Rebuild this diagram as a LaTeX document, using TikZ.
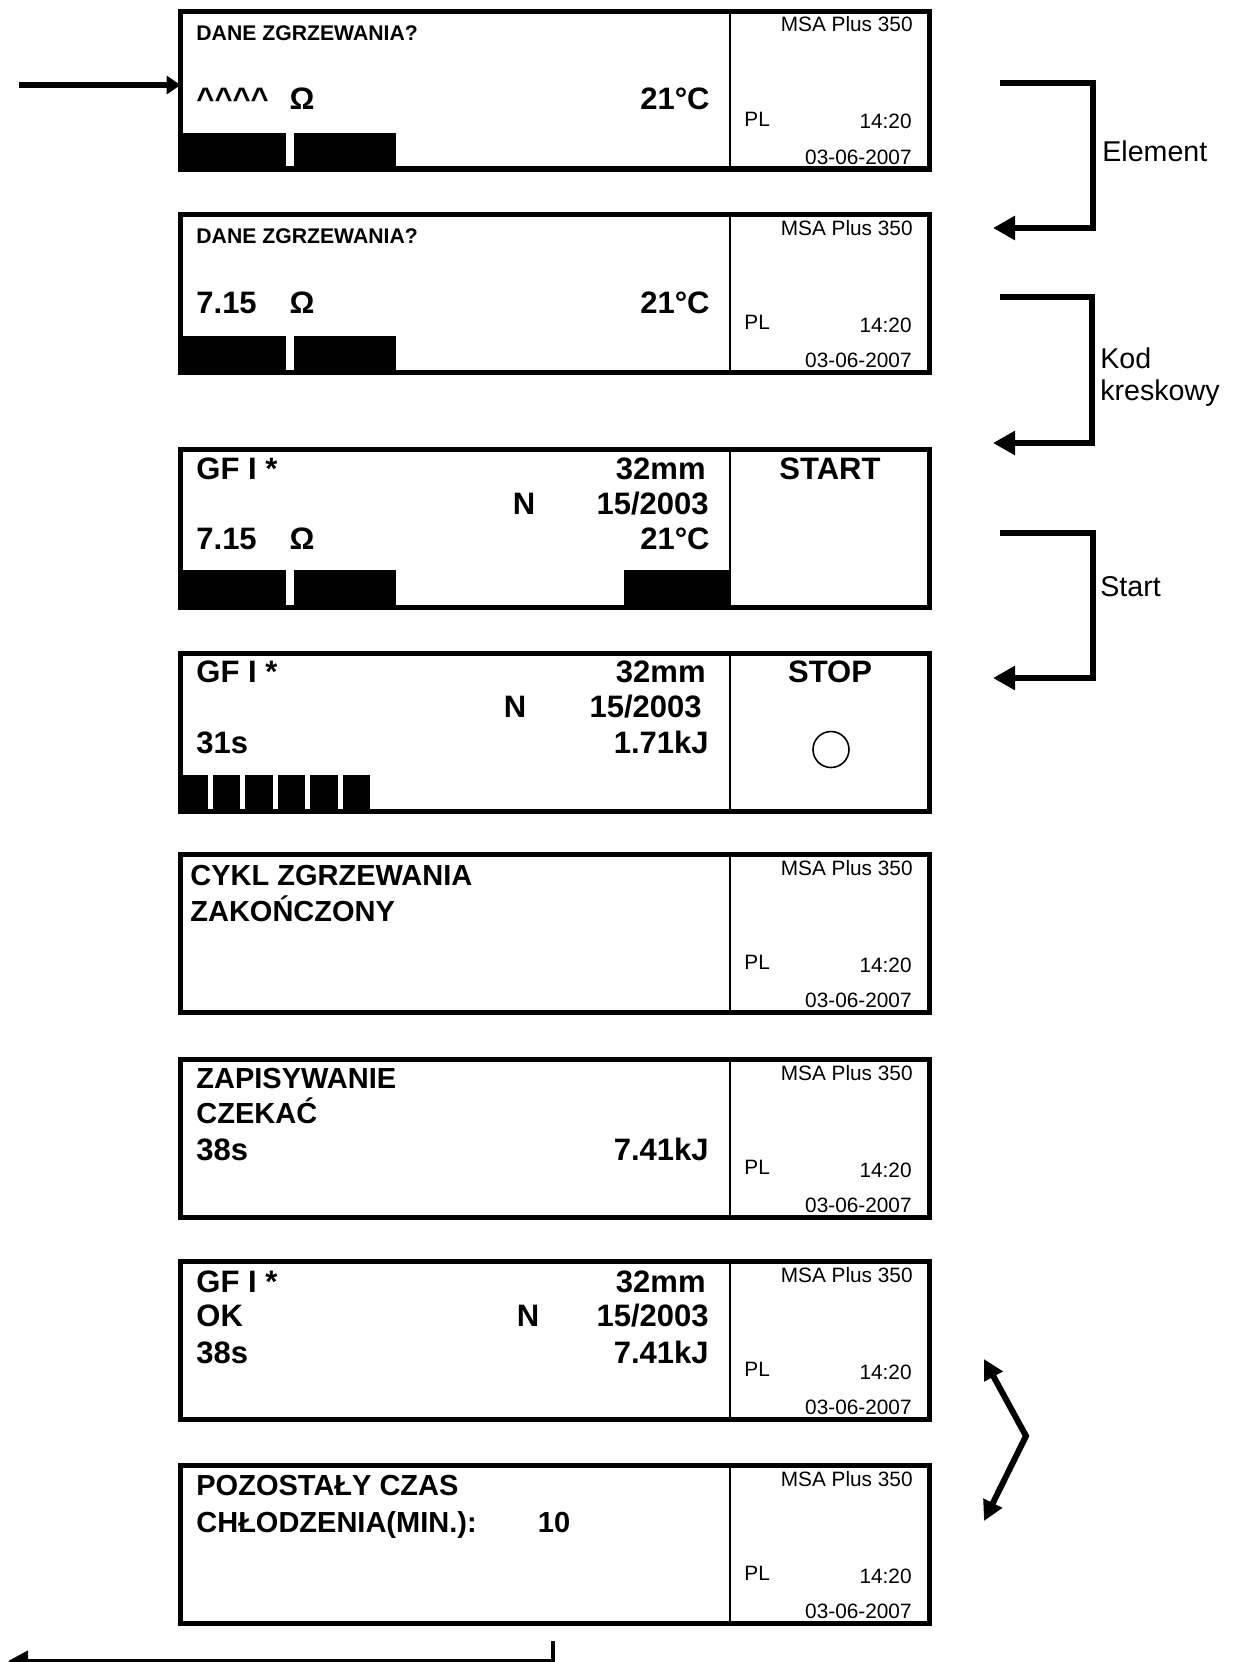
\documentclass[tikz,border=0pt]{standalone}
\usepackage{fontspec}
\setmainfont{Liberation Sans}
\usepackage{tikz}
\usetikzlibrary{
	arrows.meta,
	positioning,
	calc
}

\begin{document}
\begin{tikzpicture}[
		x=0.5pt,
		y=-0.5pt,
		screen/.style={
			draw,
			line width=2.6pt,
			minimum width=374.4pt,
			minimum height=78.9pt,
			inner sep=0pt,
			outer sep=0pt,
			anchor=north west
		},
		divider/.style={line width=1pt},
		bar/.style={fill=black},
		tinytxt/.style={font=\fontsize{10.4pt}{12pt}\selectfont, inner sep=0pt},
		headtxt/.style={font=\bfseries\fontsize{10.6pt}{12pt}\selectfont, inner sep=0pt, anchor=base west},
		bigtxt/.style={font=\bfseries\fontsize{15.5pt}{18pt}\selectfont, inner sep=0pt},
		msgtxt/.style={font=\bfseries\fontsize{14.5pt}{17pt}\selectfont, inner sep=0pt, anchor=base west},
		keytxt/.style={font=\fontsize{14.3pt}{17pt}\selectfont, inner sep=0pt, anchor=base west},
		flow/.style={line width=2.8pt, -{Triangle[length=11pt,width=11.5pt]}}
		]
		
		\useasboundingbox (0,0) rectangle (1239,1662);
		\clip (0,0) rectangle (1239,1662);
		
		% Screens
		\foreach \t [count=\i] in {8.5,212,447,651,852,1057,1259,1463}
		\node[screen] (scr\i) at (180.6,\t+2.6) {};
		\foreach \i in {1,...,8}
		\draw[divider] ($(scr\i.north west)+(549.4,0)$) -- ($(scr\i.south west)+(549.4,0)$);
		
		% Status panel
		\foreach \i/\t in {1/8.5,2/212,5/852,6/1057,7/1259,8/1463} {
			\node[tinytxt, anchor=base east] (msa\i) at (913,\t+23) {MSA Plus 350};
			\node[tinytxt, anchor=base west] (pl\i) at (744,\t+117.5) {PL};
			\node[tinytxt, anchor=base east] (time\i) at (912,\t+120) {14:20};
			\node[tinytxt, anchor=base east] (date\i) at (912,\t+155.5) {03-06-2007};
		}
		
		% Screen 1
		\node[headtxt] (ask1) at (196,40) {DANE ZGRZEWANIA?};
		\node[bigtxt, anchor=base west] (res1) at (196,109.5) {\textasciicircum\textasciicircum\textasciicircum\textasciicircum};
		\node[bigtxt, anchor=base] (ohm1) at (302,109.5) {Ω};
		\node[bigtxt, anchor=base east] (temp1) at (710,109.5) {21°C};
		\fill[bar] (180,132.5) rectangle (286,169);
		\fill[bar] (294,132.5) rectangle (396,169);
		
		% Screen 2
		\node[headtxt] (ask2) at (196,243.5) {DANE ZGRZEWANIA?};
		\node[bigtxt, anchor=base west] (res2) at (196,313) {7.15};
		\node[bigtxt, anchor=base] (ohm2) at (302,313) {Ω};
		\node[bigtxt, anchor=base east] (temp2) at (710,313) {21°C};
		\fill[bar] (180,336) rectangle (286,372);
		\fill[bar] (294,336) rectangle (396,372);
		
		% Screen 3
		\node[bigtxt, anchor=base west] (gf3) at (196,479.5) {GF I *};
		\node[bigtxt, anchor=base east] (dia3) at (706,479.5) {32mm};
		\node[bigtxt, anchor=base] (n3) at (524,514) {N};
		\node[bigtxt, anchor=base east] (norm3) at (709,514) {15/2003};
		\node[bigtxt, anchor=base west] (res3) at (196,549) {7.15};
		\node[bigtxt, anchor=base] (ohm3) at (302,549) {Ω};
		\node[bigtxt, anchor=base east] (temp3) at (710,549) {21°C};
		\node[bigtxt, anchor=base] (start) at (830,479.5) {START};
		\fill[bar] (180,570) rectangle (286,610);
		\fill[bar] (294,570) rectangle (396,610);
		\fill[bar] (624,570) rectangle (730,610);
		
		% Screen 4
		\node[bigtxt, anchor=base west] (gf4) at (196,682) {GF I *};
		\node[bigtxt, anchor=base east] (dia4) at (706,682) {32mm};
		\node[bigtxt, anchor=base] (n4) at (515,717) {N};
		\node[bigtxt, anchor=base east] (norm4) at (702,717) {15/2003};
		\node[bigtxt, anchor=base west] (time4) at (196,753) {31s};
		\node[bigtxt, anchor=base east] (energy4) at (709,753) {1.71kJ};
		\node[bigtxt, anchor=base] (stop) at (830,682) {STOP};
		\node[draw, circle, line width=0.8pt, minimum size=18pt, inner sep=0pt] (lamp) at (831,749.5) {};
		\foreach \k in {0,...,5}
		\fill[bar] (180+\k*32.5,775) rectangle (207.5+\k*32.5,812);
		
		% Screen 5
		\node[msgtxt] (done1) at (190,885) {CYKL ZGRZEWANIA};
		\node[msgtxt] (done2) at (190,921) {ZAKOŃCZONY};
		
		% Screen 6
		\node[msgtxt] (save1) at (196,1088.5) {ZAPISYWANIE};
		\node[msgtxt] (save2) at (196,1123.5) {CZEKAĆ};
		\node[bigtxt, anchor=base west] (time6) at (196,1160) {38s};
		\node[bigtxt, anchor=base east] (energy6) at (709,1160) {7.41kJ};
		
		% Screen 7
		\node[bigtxt, anchor=base west] (gf7) at (196,1292.5) {GF I *};
		\node[bigtxt, anchor=base east] (dia7) at (706,1292.5) {32mm};
		\node[bigtxt, anchor=base west] (ok7) at (196,1326) {OK};
		\node[bigtxt, anchor=base] (n7) at (528,1326) {N};
		\node[bigtxt, anchor=base east] (norm7) at (709,1326) {15/2003};
		\node[bigtxt, anchor=base west] (time7) at (196,1363) {38s};
		\node[bigtxt, anchor=base east] (energy7) at (709,1363) {7.41kJ};
		
		% Screen 8
		\node[msgtxt] (cool1) at (196,1495.5) {POZOSTAŁY CZAS};
		\node[msgtxt] (cool2) at (196,1532.5) {CHŁODZENIA(MIN.):};
		\node[msgtxt, anchor=base] (cool3) at (554,1532.5) {10};
		
		% Incoming arrow
		\coordinate (in) at (19,85);
		\draw[line width=2.8pt, -{Triangle[length=7pt,width=9pt]}] (in) -- (in -| scr1.west);
		
		% Keys
		\coordinate (el1) at (1000,83);
		\coordinate (el2) at (1093,83);
		\coordinate (el3) at (1093,228);
		\coordinate (el4) at (993,228);
		\draw[flow] (el1) -- (el2) -- (el3) -- (el4);
		\node[keytxt] (elem) at (1102,161.5) {Element};
		
		\coordinate (kd1) at (1000,297);
		\coordinate (kd2) at (1092,297);
		\coordinate (kd3) at (1092,443);
		\coordinate (kd4) at (993,443);
		\draw[flow] (kd1) -- (kd2) -- (kd3) -- (kd4);
		\node[keytxt] (kod) at (1100,368) {Kod};
		\node[keytxt] (kresk) at ([yshift=-16pt]kod.base west) {kreskowy};
		
		\coordinate (st1) at (1000,533);
		\coordinate (st2) at (1093,533);
		\coordinate (st3) at (1093,678);
		\coordinate (st4) at (993,678);
		\draw[flow] (st1) -- (st2) -- (st3) -- (st4);
		\node[keytxt] (startkey) at (1100,596) {Start};
		
		% Toggle arrow
		\coordinate (sw1) at (984,1359);
		\coordinate (sw2) at (1026,1436);
		\coordinate (sw3) at (984,1521);
		\draw[line width=3pt, {Triangle[length=10pt,width=10pt]}-{Triangle[length=10pt,width=10pt]}] (sw1) -- (sw2) -- (sw3);
		
		% Outgoing arrow
		\coordinate (out1) at (553,1641);
		\coordinate (out2) at (553,1661);
		\coordinate (out3) at (8,1661);
		\draw[line width=2.2pt, -{Triangle[length=10pt,width=10pt]}] (out1) -- (out2) -- (out3);
		
	\end{tikzpicture}
\end{document}
